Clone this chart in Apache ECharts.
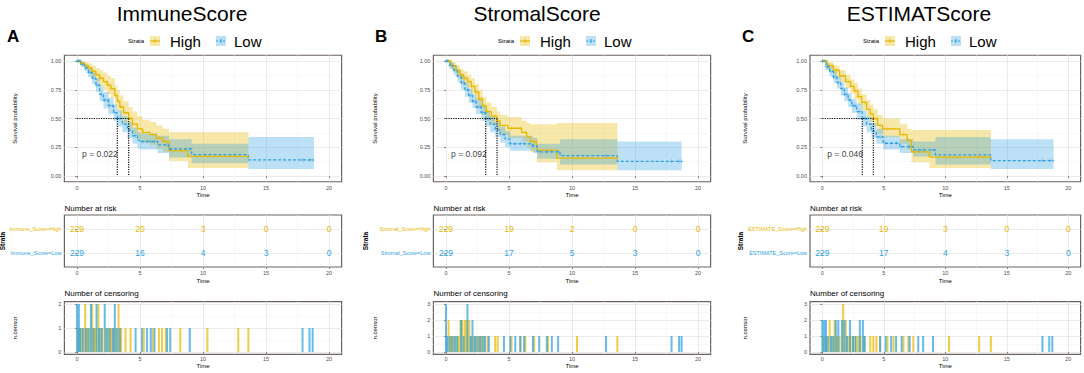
<!DOCTYPE html>
<html>
<head>
<meta charset="utf-8">
<script src="https://cdn.jsdelivr.net/npm/echarts@6/dist/echarts.min.js"></script>
<style>
html, body { margin: 0; padding: 0; background: #fff; }
#chart { width: 1084px; height: 373px; }
</style>
</head>
<body>
<div id="chart"></div>
<script>
const FONT = 'Liberation Sans, Arial, sans-serif'
const ORANGE = '#E7B800'
const BLUE = '#2E9FDF'
const ORANGE_FILL = 'rgba(231,184,0,0.34)'
const BLUE_FILL = 'rgba(46,159,223,0.32)'
const BORDER = '#6b625d'
const GRID_MAJOR = '#e6e6e6'
const GRID_MINOR = '#f3f3f3'

// labels
const scoreTitles = ['ImmuneScore', 'StromalScore', 'ESTIMATScore']
const panelLetters = ['A', 'B', 'C']
const strataHigh = ['Immune_Score=High', 'Stromal_Score=High', 'ESTIMATE_Score=High']
const strataLow = ['Immune_Score=Low', 'Stromal_Score=Low', 'ESTIMATE_Score=Low']
const legendNames = ['High', 'Low']
const pValues = ['p = 0.022', 'p = 0.092', 'p = 0.046']

// axes
const timeTicks = [0, 5, 10, 15, 20]
const timeMinor = [2.5, 7.5, 12.5, 17.5]
const survTicks = [0, 0.25, 0.5, 0.75, 1]
const survMinor = [0.125, 0.375, 0.625, 0.875]
const censorMax = [2, 3, 3]

// median survival (years)
const medianHigh = [4.1, 4.05, 4.15]
const medianLow = [3.2, 3.15, 3.25]

// number at risk at timeTicks
const riskHigh = [[229, 20, 3, 0, 0], [229, 19, 2, 0, 0], [229, 19, 3, 0, 0]]
const riskLow = [[229, 16, 4, 3, 0], [229, 17, 5, 3, 0], [229, 17, 4, 3, 0]]

// ---- ImmuneScore KM ----
const immuneHighTime = [0, 0.3, 0.6, 0.9, 1.2, 1.5, 1.8, 2.1, 2.4, 2.7, 3.0, 3.2, 3.4, 3.7, 4.1, 4.4, 4.8, 5.2, 5.8, 6.3, 6.8, 7.3, 8.8]
const immuneHighSurv = [1.00, 0.98, 0.96, 0.94, 0.91, 0.88, 0.85, 0.82, 0.79, 0.76, 0.70, 0.65, 0.60, 0.55, 0.50, 0.45, 0.41, 0.38, 0.36, 0.33, 0.30, 0.22, 0.17]
const immuneHighUpper = [1.00, 1.00, 0.99, 0.98, 0.96, 0.94, 0.92, 0.90, 0.87, 0.85, 0.79, 0.75, 0.70, 0.65, 0.60, 0.56, 0.52, 0.49, 0.47, 0.44, 0.41, 0.38, 0.38]
const immuneHighLower = [1.00, 0.96, 0.93, 0.90, 0.86, 0.82, 0.78, 0.75, 0.71, 0.68, 0.61, 0.56, 0.51, 0.46, 0.41, 0.36, 0.32, 0.29, 0.27, 0.24, 0.21, 0.13, 0.07]
const immuneHighEnd = 13.6
const immuneLowTime = [0, 0.3, 0.6, 0.9, 1.2, 1.5, 1.8, 2.1, 2.5, 2.9, 3.2, 3.6, 4.0, 4.4, 4.8, 5.0, 6.4, 7.3, 9.1, 13.6]
const immuneLowSurv = [1.00, 0.97, 0.94, 0.90, 0.85, 0.79, 0.71, 0.66, 0.61, 0.55, 0.50, 0.45, 0.40, 0.35, 0.31, 0.30, 0.27, 0.235, 0.186, 0.14]
const immuneLowUpper = [1.00, 0.99, 0.97, 0.94, 0.90, 0.85, 0.78, 0.73, 0.68, 0.62, 0.57, 0.52, 0.47, 0.42, 0.38, 0.37, 0.35, 0.32, 0.28, 0.34]
const immuneLowLower = [1.00, 0.95, 0.91, 0.86, 0.80, 0.73, 0.65, 0.59, 0.54, 0.48, 0.43, 0.38, 0.33, 0.28, 0.24, 0.23, 0.20, 0.16, 0.11, 0.06]
const immuneLowEnd = 18.8
const immuneHighCensor = [[0.1, 1], [0.3, 1], [0.5, 1], [0.65, 2], [0.8, 1], [1.0, 1], [1.2, 2], [1.35, 1], [1.5, 1], [1.7, 2], [1.85, 1], [2.0, 1], [2.3, 1], [2.5, 1], [2.7, 1], [2.9, 1], [3.1, 1], [3.3, 2], [3.5, 1], [3.85, 1], [4.25, 1], [5.3, 1], [6.0, 1], [6.5, 1], [6.75, 1], [7.05, 1], [8.2, 1], [10.35, 1], [12.8, 1], [13.6, 1]]
const immuneLowCensor = [[0.0, 2], [0.15, 2], [0.25, 1], [0.45, 1], [0.7, 1], [0.9, 1], [1.1, 2], [1.3, 1], [1.55, 2], [1.75, 1], [1.95, 1], [2.2, 2], [2.4, 1], [2.6, 1], [2.85, 1], [3.0, 2], [3.2, 1], [3.4, 1], [4.65, 1], [5.15, 1], [5.55, 1], [5.85, 1], [6.15, 1], [7.15, 1], [7.4, 1], [8.95, 1], [17.9, 1], [18.45, 1], [18.7, 1]]

// ---- StromalScore KM ----
const stromalHighTime = [0, 0.4, 0.8, 1.1, 1.4, 1.7, 2.0, 2.3, 2.6, 2.9, 3.2, 3.6, 4.05, 4.3, 4.9, 6.0, 6.4, 6.7, 7.2, 8.8]
const stromalHighSurv = [1.00, 0.96, 0.92, 0.88, 0.85, 0.82, 0.78, 0.73, 0.67, 0.61, 0.56, 0.52, 0.48, 0.44, 0.415, 0.38, 0.34, 0.30, 0.225, 0.155]
const stromalHighUpper = [1.00, 0.99, 0.96, 0.93, 0.91, 0.88, 0.85, 0.80, 0.75, 0.69, 0.64, 0.60, 0.56, 0.53, 0.51, 0.48, 0.46, 0.45, 0.45, 0.46]
const stromalHighLower = [1.00, 0.93, 0.88, 0.83, 0.79, 0.76, 0.71, 0.66, 0.59, 0.53, 0.48, 0.44, 0.40, 0.36, 0.33, 0.30, 0.25, 0.21, 0.12, 0.05]
const stromalHighEnd = 13.6
const stromalLowTime = [0, 0.3, 0.6, 0.9, 1.2, 1.5, 1.8, 2.1, 2.4, 2.8, 3.15, 3.5, 3.9, 4.3, 4.7, 5.1, 6.9, 7.25, 9.05, 13.6]
const stromalLowSurv = [1.00, 0.96, 0.92, 0.87, 0.81, 0.75, 0.70, 0.65, 0.60, 0.55, 0.50, 0.45, 0.40, 0.36, 0.32, 0.28, 0.26, 0.21, 0.177, 0.128]
const stromalLowUpper = [1.00, 0.99, 0.96, 0.92, 0.87, 0.81, 0.76, 0.71, 0.67, 0.62, 0.57, 0.52, 0.47, 0.43, 0.39, 0.35, 0.33, 0.28, 0.32, 0.30]
const stromalLowLower = [1.00, 0.93, 0.88, 0.82, 0.75, 0.69, 0.64, 0.59, 0.54, 0.48, 0.43, 0.38, 0.34, 0.29, 0.25, 0.22, 0.20, 0.15, 0.10, 0.05]
const stromalLowEnd = 18.7
const stromalHighCensor = [[0.2, 2], [0.4, 1], [0.6, 1], [0.8, 1], [1.0, 1], [1.15, 2], [1.3, 2], [1.5, 2], [1.65, 2], [1.85, 2], [2.0, 1], [2.2, 1], [2.4, 1], [2.6, 1], [2.8, 1], [3.0, 1], [3.3, 1], [3.9, 1], [4.1, 1], [5.2, 1], [5.9, 1], [6.3, 1], [7.0, 1], [8.1, 1], [10.4, 1], [13.6, 1]]
const stromalLowCensor = [[0.0, 3], [0.1, 1], [0.3, 1], [0.5, 1], [0.7, 1], [0.9, 1], [1.2, 2], [1.4, 1], [1.7, 3], [1.95, 1], [2.1, 2], [2.3, 1], [2.5, 1], [2.7, 1], [2.9, 1], [3.1, 1], [3.4, 1], [4.6, 1], [5.1, 1], [5.5, 1], [5.9, 1], [6.2, 1], [6.9, 1], [7.4, 1], [8.0, 1], [8.4, 1], [8.9, 1], [12.7, 1], [17.9, 1], [18.5, 1], [18.7, 1]]

// ---- ESTIMATEScore KM ----
const estimateHighTime = [0, 0.4, 0.9, 1.4, 1.9, 2.3, 2.6, 2.9, 3.2, 3.6, 3.9, 4.15, 4.5, 4.9, 6.3, 6.9, 7.25, 8.7]
const estimateHighSurv = [1.00, 0.96, 0.92, 0.87, 0.82, 0.78, 0.74, 0.69, 0.64, 0.58, 0.54, 0.50, 0.44, 0.41, 0.36, 0.31, 0.21, 0.165]
const estimateHighUpper = [1.00, 0.99, 0.96, 0.92, 0.88, 0.84, 0.81, 0.76, 0.71, 0.66, 0.62, 0.58, 0.53, 0.50, 0.45, 0.41, 0.40, 0.40]
const estimateHighLower = [1.00, 0.93, 0.88, 0.82, 0.76, 0.72, 0.67, 0.62, 0.57, 0.51, 0.47, 0.43, 0.37, 0.34, 0.28, 0.23, 0.12, 0.07]
const estimateHighEnd = 13.7
const estimateLowTime = [0, 0.3, 0.6, 0.9, 1.2, 1.5, 1.8, 2.1, 2.4, 2.8, 3.25, 3.6, 4.0, 4.4, 4.95, 6.3, 7.4, 9.2, 13.7]
const estimateLowSurv = [1.00, 0.95, 0.91, 0.86, 0.81, 0.76, 0.71, 0.66, 0.61, 0.56, 0.50, 0.45, 0.39, 0.34, 0.285, 0.255, 0.227, 0.183, 0.134]
const estimateLowUpper = [1.00, 0.98, 0.95, 0.91, 0.87, 0.82, 0.77, 0.72, 0.67, 0.63, 0.57, 0.52, 0.46, 0.41, 0.35, 0.32, 0.30, 0.34, 0.32]
const estimateLowLower = [1.00, 0.92, 0.87, 0.81, 0.76, 0.70, 0.65, 0.60, 0.55, 0.49, 0.43, 0.38, 0.33, 0.28, 0.23, 0.20, 0.17, 0.10, 0.06]
const estimateLowEnd = 18.8
const estimateHighCensor = [[0.1, 1], [0.3, 1], [0.6, 2], [0.8, 1], [1.0, 2], [1.2, 1], [1.4, 1], [1.7, 3], [1.9, 2], [2.1, 1], [2.3, 1], [2.5, 1], [2.7, 1], [2.9, 1], [3.1, 1], [3.4, 1], [3.9, 1], [4.15, 1], [4.4, 1], [4.7, 1], [5.3, 1], [5.8, 1], [6.6, 1], [7.0, 1], [7.4, 1], [10.3, 1], [12.75, 1], [13.7, 1]]
const estimateLowCensor = [[0.0, 2], [0.15, 2], [0.3, 2], [0.45, 1], [0.7, 1], [0.9, 1], [1.1, 2], [1.3, 2], [1.6, 2], [1.8, 2], [2.0, 1], [2.25, 2], [2.5, 1], [2.7, 1], [3.05, 2], [3.3, 2], [3.45, 1], [4.7, 1], [5.15, 1], [5.6, 1], [6.0, 1], [6.45, 1], [7.1, 1], [7.8, 1], [8.2, 1], [9.0, 1], [17.9, 1], [18.45, 1], [18.7, 1]]

const groups = [
  {
    high: { time: immuneHighTime, surv: immuneHighSurv, upper: immuneHighUpper, lower: immuneHighLower, end: immuneHighEnd, censor: immuneHighCensor },
    low: { time: immuneLowTime, surv: immuneLowSurv, upper: immuneLowUpper, lower: immuneLowLower, end: immuneLowEnd, censor: immuneLowCensor }
  },
  {
    high: { time: stromalHighTime, surv: stromalHighSurv, upper: stromalHighUpper, lower: stromalHighLower, end: stromalHighEnd, censor: stromalHighCensor },
    low: { time: stromalLowTime, surv: stromalLowSurv, upper: stromalLowUpper, lower: stromalLowLower, end: stromalLowEnd, censor: stromalLowCensor }
  },
  {
    high: { time: estimateHighTime, surv: estimateHighSurv, upper: estimateHighUpper, lower: estimateHighLower, end: estimateHighEnd, censor: estimateHighCensor },
    low: { time: estimateLowTime, surv: estimateLowSurv, upper: estimateLowUpper, lower: estimateLowLower, end: estimateLowEnd, censor: estimateLowCensor }
  }
]

// page layout of the three panels
const layout = [
  { left: 64.4, width: 277.2, titleX: 182, letterX: 7, legendX: 128, nameGap: 46, strataGap: 56 },
  { left: 433.4, width: 277.2, titleX: 537, letterX: 375, legendX: 498, nameGap: 55, strataGap: 64 },
  { left: 810, width: 270.6, titleX: 919, letterX: 742, legendX: 863, nameGap: 62, strataGap: 66 }
]

const PLUS = 'path://M4.4,0h1.2v4.4h4.4v1.2h-4.4v4.4h-1.2v-4.4h-4.4v-1.2h4.4z'
const tickFont = { fontSize: 5.5, color: '#4d4d4d', fontFamily: FONT }
const nameFont = { fontSize: 6, color: '#000', fontFamily: FONT }

const grid = [], xAxis = [], yAxis = [], series = [], graphic = []

const addGrid = (L, top, height) => {
  grid.push({ left: L.left, top, width: L.width, height, show: true, backgroundColor: '#fff',
    borderColor: BORDER, borderWidth: 1.2, containLabel: false, outerBoundsMode: 'none' })
  return grid.length - 1
}

const addX = (gi, margin, nameGap) => {
  xAxis.push({
    type: 'value', gridIndex: gi, position: 'bottom', min: -1, max: 21,
    axisLine: { show: false },
    axisTick: { length: 2, lineStyle: { color: '#444', width: 0.6 }, customValues: timeTicks },
    axisLabel: { customValues: timeTicks, margin, ...tickFont },
    splitLine: { show: true, lineStyle: { color: GRID_MAJOR, width: 0.8 } },
    name: 'Time', nameLocation: 'middle', nameGap, nameTextStyle: nameFont
  })
  const idx = xAxis.length - 1
  xAxis.push({
    type: 'value', gridIndex: gi, position: 'top', min: -1, max: 21,
    axisLine: { show: false }, axisLabel: { show: false },
    axisTick: { show: false, customValues: timeMinor },
    splitLine: { show: true, lineStyle: { color: GRID_MINOR, width: 0.6 } }
  })
  return idx
}

const addY = (gi, o) => {
  yAxis.push({
    type: 'value', gridIndex: gi, position: 'left', min: o.min, max: o.max,
    axisLine: { show: false },
    axisTick: { length: 2, lineStyle: { color: '#444', width: 0.6 }, customValues: o.ticks },
    axisLabel: { customValues: o.ticks, margin: 3, formatter: o.fmt, rich: o.rich, ...tickFont },
    splitLine: { show: true, lineStyle: { color: GRID_MAJOR, width: 0.8 } },
    name: o.name, nameLocation: 'middle', nameGap: o.nameGap, nameTextStyle: o.nameStyle || nameFont
  })
  const idx = yAxis.length - 1
  if (o.minor) {
    yAxis.push({
      type: 'value', gridIndex: gi, position: 'right', min: o.min, max: o.max,
      axisLine: { show: false }, axisLabel: { show: false },
      axisTick: { show: false, customValues: o.minor },
      splitLine: { show: true, lineStyle: { color: GRID_MINOR, width: 0.6 } }
    })
  }
  return idx
}

const stepPts = (g, vals) => {
  const d = g.time.map((t, i) => [t, vals[i]])
  d.push([g.end, vals[vals.length - 1]])
  return d
}
const survAt = (g, t) => {
  let v = g.surv[0]
  g.time.forEach((tt, i) => { if (tt <= t) v = g.surv[i] })
  return v
}

// confidence band: one polygon traced through the axis scales
const bandSeries = (ax, g, fill) => {
  const data = g.time.map((t, i) => [t, g.lower[i], g.upper[i]])
  data.push([g.end, g.lower[g.lower.length - 1], g.upper[g.upper.length - 1]])
  return {
    type: 'custom', ...ax, data, silent: true, z: 1, clip: true,
    encode: { x: 0, y: [1, 2] },
    renderItem: (params, api) => {
      if (params.dataIndex !== 0) return null
      const top = [], bot = []
      data.forEach((d, i) => {
        if (i > 0) {
          top.push(api.coord([d[0], data[i - 1][2]]))
          bot.push(api.coord([d[0], data[i - 1][1]]))
        }
        top.push(api.coord([d[0], d[2]]))
        bot.push(api.coord([d[0], d[1]]))
      })
      return { type: 'polygon', shape: { points: top.concat(bot.reverse()) }, style: { fill } }
    }
  }
}

const strata = [
  { key: 'high', color: ORANGE, fill: ORANGE_FILL, dash: 'solid', row: 2 },
  { key: 'low', color: BLUE, fill: BLUE_FILL, dash: [3, 2], row: 1 }
]

groups.forEach((grp, p) => {
  const L = layout[p]

  // ---- survival curves ----
  const gKM = addGrid(L, 55.25, 126.5)
  const xKM = addX(gKM, 3, 9.5)
  const yKM = addY(gKM, { min: -0.05, max: 1.05, ticks: survTicks, minor: survMinor,
    fmt: v => v.toFixed(2), name: 'Survival probability', nameGap: L.nameGap })
  const ax = { xAxisIndex: xKM, yAxisIndex: yKM }

  strata.forEach(s => series.push(bandSeries(ax, grp[s.key], s.fill)))
  strata.forEach(s => {
    const g = grp[s.key]
    series.push({ type: 'line', ...ax, step: 'end', data: stepPts(g, g.surv), showSymbol: false,
      lineStyle: { color: s.color, width: 1.3, type: s.dash }, z: 3 })
    series.push({ type: 'scatter', ...ax, symbol: PLUS, symbolSize: 4,
      data: g.censor.map(c => [c[0], survAt(g, c[0])]), itemStyle: { color: s.color }, z: 4 })
  })

  const mh = medianHigh[p], ml = medianLow[p]
  const medLine = d => ({ type: 'line', ...ax, data: d, showSymbol: false, z: 5,
    lineStyle: { color: '#111', width: 1.2, type: 'dotted' } })
  series.push(medLine([[0, 0.5], [Math.max(mh, ml), 0.5]]))
  series.push(medLine([[ml, 0.5], [ml, 0]]))
  series.push(medLine([[mh, 0.5], [mh, 0]]))

  series.push({ type: 'scatter', ...ax, symbolSize: 0, data: [[0.4, 0.19]], z: 6,
    label: { show: true, position: 'right', distance: 0, formatter: pValues[p],
      fontSize: 8.5, color: '#000', fontFamily: FONT } })

  // ---- number at risk ----
  const gR = addGrid(L, 215, 52)
  const xR = addX(gR, 3, 11)
  const yR = addY(gR, { min: 0.4, max: 2.6, ticks: [1, 2],
    fmt: v => (v === 2 ? '{h|' + strataHigh[p] + '}' : '{l|' + strataLow[p] + '}'),
    rich: { h: { color: ORANGE, fontSize: 5.5, fontFamily: FONT }, l: { color: BLUE, fontSize: 5.5, fontFamily: FONT } },
    name: 'Strata', nameGap: L.strataGap, nameStyle: { fontSize: 6.5, fontWeight: 'bold', color: '#000', fontFamily: FONT } })
  strata.forEach(s => {
    const risk = s.key === 'high' ? riskHigh[p] : riskLow[p]
    series.push({ type: 'custom', xAxisIndex: xR, yAxisIndex: yR, z: 5, silent: true,
      data: timeTicks.map((t, i) => [t, s.row, risk[i]]),
      encode: { x: 0, y: 1 },
      renderItem: (params, api) => {
        const pt = api.coord([api.value(0), api.value(1)])
        return { type: 'text', x: pt[0], y: pt[1],
          style: { text: String(api.value(2)), fill: s.color, fontSize: 8.5, fontFamily: FONT,
            align: 'center', verticalAlign: 'middle', textAlign: 'center', textVerticalAlign: 'middle' } }
      } })
  })

  // ---- number of censoring ----
  const cm = censorMax[p]
  const cTicks = [], cMinor = []
  for (let v = 0; v <= cm; v++) { cTicks.push(v); if (v < cm) cMinor.push(v + 0.5) }
  const gC = addGrid(L, 301.6, 52.8)
  const xC = addX(gC, 1.5, 6)
  const yC = addY(gC, { min: -cm * 0.05, max: cm * 1.05, ticks: cTicks, minor: cMinor,
    fmt: v => String(v), name: 'n.censor', nameGap: L.nameGap })
  strata.forEach(s => {
    series.push({ type: 'bar', xAxisIndex: xC, yAxisIndex: yC, data: grp[s.key].censor,
      barWidth: 2, barGap: '-100%', itemStyle: { color: s.color, opacity: 0.72 } })
  })

  // ---- text and legend ----
  const txt = (x, y, text, size, extra) => ({
    type: 'text', x, y, silent: true,
    style: Object.assign({ text, fontSize: size, fontFamily: FONT, fill: '#000',
      align: 'left', textAlign: 'left', verticalAlign: 'middle', textVerticalAlign: 'middle' }, extra || {})
  })
  graphic.push(txt(L.titleX, 13, scoreTitles[p], 21, { align: 'center', textAlign: 'center' }))
  graphic.push(txt(L.letterX, 36, panelLetters[p], 17, { fontWeight: 'bold' }))
  graphic.push(txt(L.left, 208, 'Number at risk', 8))
  graphic.push(txt(L.left, 293, 'Number of censoring', 8))

  const lx = L.legendX
  graphic.push(txt(lx, 41, 'Strata', 6))
  strata.forEach((s, i) => {
    const kx = lx + 22 + i * 66
    graphic.push({ type: 'rect', silent: true, shape: { x: kx, y: 36, width: 10, height: 10 }, style: { fill: s.fill } })
    graphic.push({ type: 'line', silent: true, shape: { x1: kx, y1: 41, x2: kx + 10, y2: 41 },
      style: { stroke: s.color, lineWidth: 1.2, lineDash: s.key === 'low' ? [2, 1.5] : null } })
    graphic.push({ type: 'line', silent: true, shape: { x1: kx + 5, y1: 39, x2: kx + 5, y2: 43 },
      style: { stroke: s.color, lineWidth: 1 } })
    graphic.push(txt(kx + (i === 0 ? 20 : 18), 41, legendNames[i], 15))
  })
})

const chart = echarts.init(document.getElementById('chart'), null, { renderer: 'svg' })
chart.setOption({
  animation: false,
  backgroundColor: '#fff',
  textStyle: { fontFamily: FONT },
  grid, xAxis, yAxis, series, graphic
})
</script>
</body>
</html>
